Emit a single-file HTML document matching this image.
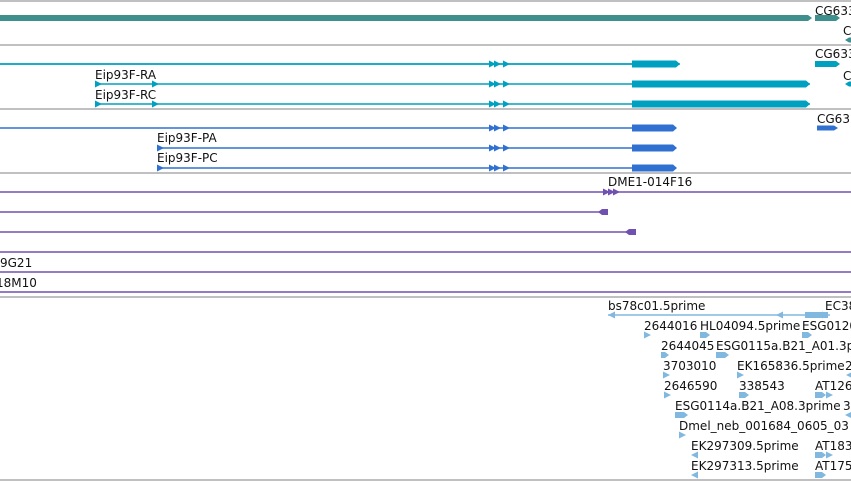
<!DOCTYPE html>
<html><head><meta charset="utf-8"><style>
html,body{margin:0;padding:0;background:#fff;}
svg{display:block;font-family:"DejaVu Sans","Liberation Sans",sans-serif;font-size:12px;}
</style></head><body>
<svg id="c" width="851" height="481" viewBox="0 0 851 481" xmlns="http://www.w3.org/2000/svg">
<g stroke="#c0c0c0" stroke-width="2">
<line x1="0" y1="1" x2="851" y2="1"/><line x1="0" y1="45" x2="851" y2="45"/>
<line x1="0" y1="109" x2="851" y2="109"/><line x1="0" y1="173" x2="851" y2="173"/>
<line x1="0" y1="297" x2="851" y2="297"/><line x1="0" y1="480" x2="851" y2="480"/>
</g>
<g id="feat"></g>
</svg>
<script>
const NS='http://www.w3.org/2000/svg';
const g=document.getElementById('feat');
function el(t,a){const e=document.createElementNS(NS,t);for(const k in a)e.setAttribute(k,a[k]);g.appendChild(e);return e;}
function line(x1,x2,y,c){const e=el('line',{x1:x1,x2:x2,y1:y,y2:y,stroke:c,'stroke-width':1.5});

}
function block(x1,x2,y,h,c,dir){let p;
if(dir>0)p=`${x1},${y-h/2} ${x2-4},${y-h/2} ${x2},${y} ${x2-4},${y+h/2} ${x1},${y+h/2}`;
else if(dir<0)p=`${x1+4},${y-h/2} ${x2},${y-h/2} ${x2},${y+h/2} ${x1+4},${y+h/2} ${x1},${y}`;
else p=`${x1},${y-h/2} ${x2},${y-h/2} ${x2},${y+h/2} ${x1},${y+h/2}`;
const e=el('polygon',{points:p,fill:c});

}
function arr(x,y,c,dir){const s=dir>0?`${x},${y-3.5} ${x+7},${y} ${x},${y+3.5}`:`${x+7},${y-3.5} ${x},${y} ${x+7},${y+3.5}`;
const e=el('polygon',{points:s,fill:c});

}
function txt(x,y,s){const e=el('text',{x:x,y:y,fill:'#111'});e.textContent=s;

}

// gene track
const TEAL='#3f8f8f';
block(0,812,18,6,TEAL,1);block(815,840,18,6,TEAL,1);txt(815,15,'CG6330');
txt(843,35,'CG');block(845,851,40,5,TEAL,-1);
// mRNA
const CY='#00a0c0';
[64,84,104].forEach((y,i)=>{line(i?95:0,851>810&&i?810:680,y,CY);
arr(489,y,CY,1);arr(494,y,CY,1);arr(503,y,CY,1);
block(632,i?810:680,y,i?7:7,CY,1);
if(i){arr(95,y,CY,1);arr(152,y,CY,1);}});
line(0,632,64,CY);
txt(95,79,'Eip93F-RA');txt(95,99,'Eip93F-RC');
txt(815,58,'CG6330');block(815,840,64,6,CY,1);
txt(843,80,'CG');block(845,851,84,5,CY,-1);
// CDS
const BL='#3070d0';
[128,148,168].forEach((y,i)=>{line(i?157:0,632,y,BL);
arr(489,y,BL,1);arr(494,y,BL,1);arr(503,y,BL,1);block(632,677,y,7,BL,1);
if(i)arr(157,y,BL,1);});
txt(157,142,'Eip93F-PA');txt(157,162,'Eip93F-PC');
txt(817,123,'CG63');block(817,838,128,5,BL,1);
// clones
const PU='#7050b0';
line(0,851,192,PU);arr(603,192,PU,1);arr(608,192,PU,1);arr(613,192,PU,1);txt(608,186,'DME1-014F16');
line(0,608,212,PU);block(598,608,212,6,PU,-1);
line(0,636,232,PU);block(625,636,232,6,PU,-1);
line(0,851,252,PU);txt(0,267,'9G21');
line(0,851,272,PU);txt(-4,287,'18M10');
line(0,851,292,PU);
// ESTs
const LB='#80b8e0';
const ests=[
 [608,310,'bs78c01.5prime'],[825,310,'EC38'],
 [644,330,'2644016'],[700,330,'HL04094.5prime'],[802,330,'ESG0120'],
 [661,350,'2644045'],[716,350,'ESG0115a.B21_A01.3prime'],
 [663,370,'3703010'],[737,370,'EK165836.5prime'],[845,370,'2'],
 [664,390,'2646590'],[739,390,'338543'],[815,390,'AT126'],
 [675,410,'ESG0114a.B21_A08.3prime'],[843,410,'3'],
 [679,430,'Dmel_neb_001684_0605_03'],
 [691,450,'EK297309.5prime'],[815,450,'AT183'],
 [691,470,'EK297313.5prime'],[815,470,'AT175']];
ests.forEach(e=>txt(e[0],e[1],e[2]));
line(608,830,315,LB);arr(608,315,LB,-1);arr(596+180,315,LB,-1);block(805,828,315,6,LB,0);arr(822,315,LB,1);
arr(644,335,LB,1);block(700,710,335,6,LB,1);block(802,812,335,6,LB,1);
block(661,669,355,6,LB,1);block(716,729,355,6,LB,1);
arr(663,375,LB,1);arr(737,375,LB,1);arr(846,375,LB,-1);
arr(664,395,LB,1);block(739,749,395,6,LB,1);block(815,826,395,6,LB,1);arr(826,395,LB,1);
block(675,688,415,6,LB,1);arr(845,415,LB,-1);
arr(679,435,LB,1);
arr(691,455,LB,-1);block(815,826,455,6,LB,1);arr(826,455,LB,1);
arr(691,475,LB,-1);block(815,826,475,6,LB,1);
</script>
</body></html>
